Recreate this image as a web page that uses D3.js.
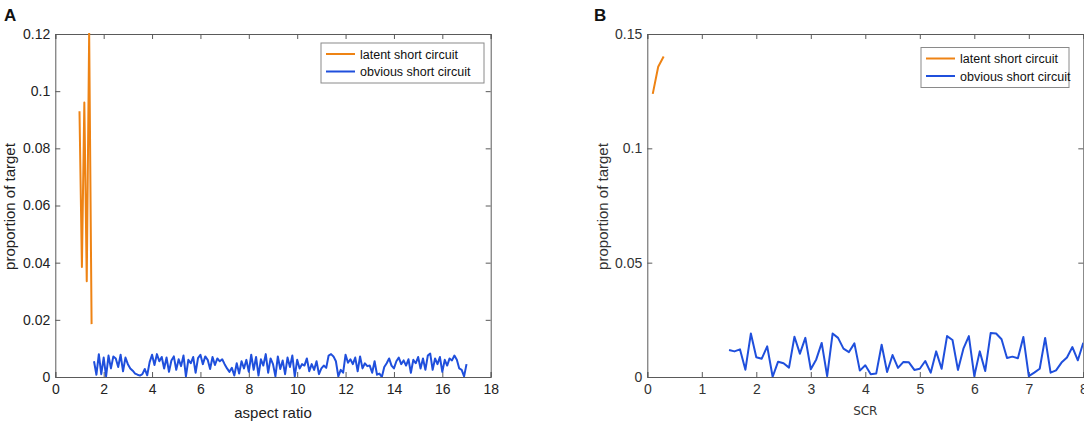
<!DOCTYPE html>
<html><head><meta charset="utf-8">
<script src="https://cdn.jsdelivr.net/npm/d3@7"></script>
<style>body{margin:0;background:#fff}svg{display:block}</style>
</head><body>
<svg id="c" width="1084" height="433"></svg>
<script>
// ---- Panel A data ----
const aLatentX = [1.0, 1.1, 1.2, 1.3, 1.4, 1.5];
const aLatentY = [0.093, 0.0385, 0.096, 0.0335, 0.1205, 0.0185];
const aObviousStart = 1.6, aObviousStep = 0.1;
const aObviousY = [
 0.0055,0.0008,0.0080,0.0010,0.0068,0.0002,0.0075,0.0030,0.0072,0.0065,
 0.0035,0.0078,0.0020,0.0068,0.0045,0.0030,0.0022,0.0012,0.0008,0.0005,
 0.0010,0.0028,0.0006,0.0052,0.0078,0.0042,0.0080,0.0055,0.0070,0.0030,
 0.0068,0.0018,0.0058,0.0072,0.0025,0.0062,0.0038,0.0075,0.0002,0.0060,
 0.0048,0.0070,0.0015,0.0066,0.0078,0.0045,0.0072,0.0060,0.0028,0.0070,
 0.0042,0.0065,0.0055,0.0062,0.0045,0.0030,0.0018,0.0032,0.0005,0.0048,
 0.0012,0.0055,0.0030,0.0060,0.0018,0.0078,0.0025,0.0070,0.0005,0.0062,
 0.0040,0.0080,0.0015,0.0065,0.0045,0.0002,0.0072,0.0028,0.0058,0.0010,
 0.0068,0.0035,0.0075,0.0002,0.0060,0.0030,0.0045,0.0040,0.0065,0.0020,
 0.0045,0.0025,0.0055,0.0010,0.0030,0.0040,0.0032,0.0075,0.0080,0.0072,
 0.0055,0.0002,0.0025,0.0015,0.0078,0.0050,0.0062,0.0045,0.0068,0.0020,
 0.0072,0.0030,0.0048,0.0038,0.0040,0.0015,0.0055,0.0008,0.0012,0.0000,
 0.0035,0.0048,0.0065,0.0040,0.0030,0.0055,0.0068,0.0045,0.0058,0.0040,
 0.0062,0.0015,0.0060,0.0048,0.0070,0.0030,0.0065,0.0025,0.0075,0.0082,
 0.0025,0.0065,0.0045,0.0070,0.0018,0.0060,0.0040,0.0065,0.0058,0.0075,
 0.0060,0.0030,0.0025,0.0002,0.0045
];
const aXTicks = [0, 2, 4, 6, 8, 10, 12, 14, 16, 18];
const aYTicks = [0, 0.02, 0.04, 0.06, 0.08, 0.1, 0.12];

// ---- Panel B data ----
const bLatentX = [0.1, 0.2, 0.3];
const bLatentY = [0.1238, 0.1357, 0.1402];
const bObviousStart = 1.5, bObviousStep = 0.1;
const bObviousY = [
 0.0118,0.0112,0.0121,0.0032,0.0190,0.0086,0.0080,0.0134,0.0001,0.0067,
 0.0060,0.0041,0.0176,0.0102,0.0171,0.0034,0.0077,0.0149,0.0004,0.0190,
 0.0171,0.0124,0.0109,0.0147,0.0028,0.0051,0.0012,0.0015,0.0141,0.0022,
 0.0096,0.0040,0.0066,0.0064,0.0031,0.0036,0.0070,0.0019,0.0112,0.0036,
 0.0179,0.0162,0.0031,0.0124,0.0179,0.0004,0.0112,0.0026,0.0192,0.0190,
 0.0165,0.0083,0.0089,0.0082,0.0175,0.0004,0.0019,0.0036,0.0171,0.0019,
 0.0029,0.0063,0.0085,0.0131,0.0073,0.0150
];
const bXTicks = [0, 1, 2, 3, 4, 5, 6, 7, 8];
const bYTicks = [0, 0.05, 0.1, 0.15];

const seriesNames = ["latent short circuit", "obvious short circuit"];
const colors = ["#ee8314", "#1f4fdc"];

const svg = d3.select("#c");
const font = "'Liberation Sans', Arial, sans-serif";

function panel(o) {
  const x = d3.scaleLinear().domain(o.xd).range([o.l, o.r]);
  const y = d3.scaleLinear().domain(o.yd).range([o.b, o.t]);
  const g = svg.append("g");
  const axc = "#5a5a5a";
  const cid = "clip" + o.id;
  svg.append("clipPath").attr("id", cid).append("rect")
    .attr("x", o.l).attr("y", o.t - 1).attr("width", o.r - o.l).attr("height", o.b - o.t + 1);
  const fmt = o.fmt;
  g.append("g").attr("transform", `translate(0,${o.b})`)
    .call(d3.axisBottom(x).tickValues(o.xt).tickSize(-5).tickPadding(7).tickFormat(fmt))
    .call(s => { s.select(".domain").attr("stroke", axc); s.selectAll(".tick line").attr("stroke", axc);
      s.selectAll("text").attr("fill", o.tc).attr("font-size", 14).attr("font-family", font); });
  g.append("g").attr("transform", `translate(${o.l},0)`)
    .call(d3.axisLeft(y).tickValues(o.yt).tickSize(-5).tickPadding(5).tickFormat(fmt))
    .call(s => { s.select(".domain").attr("stroke", axc); s.selectAll(".tick line").attr("stroke", axc);
      s.selectAll("text").attr("fill", o.tc).attr("font-size", 14).attr("font-family", font); });
  g.append("g").attr("transform", `translate(0,${o.t})`)
    .call(d3.axisTop(x).tickValues(o.xt).tickSize(-5).tickFormat(""))
    .call(s => { s.select(".domain").attr("stroke", axc); s.selectAll(".tick line").attr("stroke", axc); });
  g.append("g").attr("transform", `translate(${o.r},0)`)
    .call(d3.axisRight(y).tickValues(o.yt).tickSize(-5).tickFormat(""))
    .call(s => { s.select(".domain").attr("stroke", axc); s.selectAll(".tick line").attr("stroke", axc); });

  const line = d3.line().x(d => x(d[0])).y(d => y(d[1]));
  const lat = o.lx.map((v, i) => [v, o.ly[i]]);
  const obv = o.oy.map((v, i) => [o.os + i * o.ostep, v]);
  const pg = g.append("g").attr("clip-path", `url(#${cid})`);
  pg.append("path").datum(obv).attr("d", line).attr("fill", "none")
    .attr("stroke", colors[1]).attr("stroke-width", 2).attr("stroke-linejoin", "round");
  pg.append("path").datum(lat).attr("d", line).attr("fill", "none")
    .attr("stroke", colors[0]).attr("stroke-width", 2).attr("stroke-linejoin", "round");

  g.append("text").attr("x", (o.l + o.r) / 2).attr("y", o.xly).attr("text-anchor", "middle")
    .attr("font-family", o.xlf).attr("font-size", o.xls).attr("fill", o.tc).text(o.xlabel);
  g.append("text").attr("transform", `translate(${o.ylx},${(o.t + o.b) / 2 + 1}) rotate(-90)`)
    .attr("text-anchor", "middle").attr("font-family", font).attr("font-size", 15)
    .attr("fill", o.tc).text("proportion of target");
  g.append("text").attr("x", o.px).attr("y", 21).attr("font-family", font)
    .attr("font-weight", "bold").attr("font-size", 17).attr("fill", "#111").text(o.id);

  const lg = g.append("g").attr("transform", `translate(${o.lgx},${o.lgy})`);
  lg.append("rect").attr("width", o.lgw).attr("height", 40).attr("fill", "#fff")
    .attr("stroke", "#8a8a8a").attr("stroke-width", 1);
  seriesNames.forEach((n, i) => {
    const yy = 11 + i * 17.5;
    lg.append("line").attr("x1", 5).attr("x2", 34).attr("y1", yy).attr("y2", yy)
      .attr("stroke", colors[i]).attr("stroke-width", 2);
    lg.append("text").attr("x", 39).attr("y", yy + 4.5).attr("font-family", font)
      .attr("font-size", 12.5).attr("fill", "#111").text(n);
  });
}

panel({ id: "A", xd: [0, 18], yd: [0, 0.12], l: 55.3, r: 490.7, t: 34, b: 377,
  xt: aXTicks, yt: aYTicks, fmt: d => String(d), tc: "#222",
  lx: aLatentX, ly: aLatentY, os: aObviousStart, ostep: aObviousStep, oy: aObviousY,
  xlabel: "aspect ratio", xly: 418, xlf: font, xls: 15, ylx: 15, px: 4,
  lgx: 321, lgy: 43, lgw: 163 });

panel({ id: "B", xd: [0, 8], yd: [0, 0.15], l: 647.3, r: 1083.3, t: 34, b: 377,
  xt: bXTicks, yt: bYTicks, fmt: d => String(d), tc: "#333",
  lx: bLatentX, ly: bLatentY, os: bObviousStart, ostep: bObviousStep, oy: bObviousY,
  xlabel: "SCR", xly: 415, xlf: "'DejaVu Sans', sans-serif", xls: 12, ylx: 608, px: 594,
  lgx: 921, lgy: 47.5, lgw: 148 });
</script>
</body></html>
